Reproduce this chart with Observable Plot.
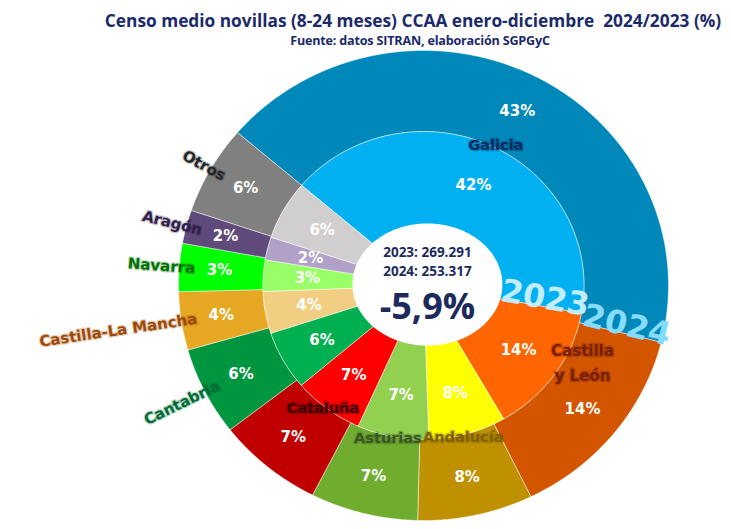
<!DOCTYPE html>
<html><head><meta charset="utf-8">
<script src="https://cdn.jsdelivr.net/npm/d3@7"></script>
<script src="https://cdn.jsdelivr.net/npm/@observablehq/plot@0.6"></script>
<style>
body{margin:0;background:#fff;width:731px;height:529px;overflow:hidden;position:relative;font-family:"Open Sans",sans-serif}
#title{position:absolute;left:0;top:9px;width:826px;text-align:center;white-space:nowrap;font-weight:700;font-size:17.3px;color:#1B2A6B;}
#sub{position:absolute;left:0;top:32px;width:840px;text-align:center;white-space:nowrap;font-weight:700;font-size:12.6px;color:#1B2A6B;letter-spacing:-0.2px}
#chart{position:absolute;left:0;top:50px;}
</style></head><body>
<div id="title">Censo medio novillas (8-24 meses) CCAA enero-diciembre&nbsp; 2024/2023 (%)</div>
<div id="sub">Fuente: datos SITRAN, elaboración SGPGyC</div>
<div id="chart"></div>
<script>
const regions = ["Galicia","Castilla y León","Andalucía","Asturias","Cataluña","Cantabria","Castilla-La Mancha","Navarra","Aragón","Otros"];
const share2024 = [42.6,13.9,7.6,7.1,7.0,6.1,4.0,3.3,2.3,6.1];
const share2023 = [41.6,13.8,7.8,7.2,7.1,6.2,4.4,3.3,2.4,6.2];
const colors2024 = ["#0088BA","#D35500","#BF9000","#70AD2F","#C00000","#00963F","#E6A823","#00FF00","#604A7B","#808080"];
const colors2023 = ["#00B0F0","#FF6600","#FFFF00","#92D050","#FF0000","#00B050","#F2CE82","#99FF66","#B1A0C7","#D0CECE"];
const labelColors = ["#0A2A5E","#7A1E00","#7F6000","#385723","#3F0000","#006B35","#9C4A06","#007000","#2E1E48","#262626"];
const years = ["2023","2024"];
const total2023 = 269291;
const total2024 = 253317;

const es = d3.formatLocale({decimal:",", thousands:".", grouping:[3], currency:["","€"], minus:"-"});
const fmtN = es.format(",d");
const fmtP = es.format(".1f");

const deg = Math.PI/180;
const start = -49.4*deg;
const pie = d3.pie().sort(null).startAngle(start).endAngle(start + 2*Math.PI);
const arcs24 = pie(share2024), arcs23 = pie(share2023);

const RX = 245, RY = 235; // pixel radii of the stretched doughnut
const R_OUT = 1, R_MID = 0.655, R_IN = 0.22;

function ring(arcs, r0, r1, colors, tag) {
  const pts = [];
  arcs.forEach((a, i) => {
    const n = Math.max(2, Math.ceil((a.endAngle - a.startAngle)/(0.5*deg)));
    const key = tag + i;
    const list = [];
    for (let k = 0; k <= n; k++) { const t = a.startAngle + (a.endAngle - a.startAngle)*k/n; list.push([r1*Math.sin(t), r1*Math.cos(t)]); }
    for (let k = n; k >= 0; k--) { const t = a.startAngle + (a.endAngle - a.startAngle)*k/n; list.push([r0*Math.sin(t), r0*Math.cos(t)]); }
    list.push(list[0]);
    list.forEach(([x, y]) => pts.push({key, color: colors[i], x, y}));
  });
  return pts;
}
const slices = ring(arcs24, R_MID, R_OUT, colors2024, "o").concat(ring(arcs23, R_IN, R_MID, colors2023, "i"));

// white oval in the centre
const oval = d3.range(0, 361, 3).map(d => ({x: 0.016 + 0.306*Math.sin(d*deg), y: 0.004 + 0.26*Math.cos(d*deg)}));

const mid = a => (a.startAngle + a.endAngle)/2;
const pctOuter = arcs24.map((a, i) => ({x: 0.835*Math.sin(mid(a)), y: 0.835*Math.cos(mid(a)), text: Math.round(share2024[i]) + "%"}));
const pctInner = arcs23.map((a, i) => ({x: 0.475*Math.sin(mid(a)), y: 0.475*Math.cos(mid(a)), text: Math.round(share2023[i]) + "%"}));

// names: left side radial, right side horizontal
const leftNames = [], rightNames = [];
regions.forEach((name, i) => {
  if (i >= 5) {
    const t = mid(arcs24[i]);
    const r = 0.935;
    const rot = Math.atan2(Math.cos(t)*RY, -Math.sin(t)*RX)/deg;
    leftNames.push({x: r*Math.sin(t), y: r*Math.cos(t), text: name, color: labelColors[i], rot});
  } else if (i !== 1) {
    const t = (mid(arcs24[i]) + mid(arcs23[i]))/2;
    const r = 0.665;
    rightNames.push({x: r*Math.sin(t), y: r*Math.cos(t), text: name, color: labelColors[i]});
  }
});
const tc = (mid(arcs24[1]) + mid(arcs23[1]))/2;
const cylName = [{x: 0.665*Math.sin(tc), y: 0.665*Math.cos(tc), text: "Castilla\ny León", color: labelColors[1]}];

// year labels sitting on the Galicia / Castilla y León boundary
const yearLabels = [
  {a: arcs23[0].endAngle, r: 0.497, text: years[0], color: "#C2ECFF"},
  {a: arcs24[0].endAngle, r: 0.845, text: years[1], color: "#86DCFF"}
].map(d => ({x: d.r*Math.sin(d.a), y: d.r*Math.cos(d.a), text: d.text, color: d.color,
  rot: Math.atan2(-Math.cos(d.a)*RY, Math.sin(d.a)*RX)/deg}));

const change = (total2024/total2023 - 1)*100;
const centre = [{x: 0.016, y: 0}];

const chart = Plot.plot({
  width: 731, height: 479,
  marginTop: 0, marginBottom: 0, marginLeft: 0, marginRight: 0,
  x: {domain: [-1, 1], range: [423 - RX, 423 + RX], axis: null},
  y: {domain: [-1, 1], range: [235 + RY, 235 - RY], axis: null},
  color: {type: "identity"},
  marks: [
    Plot.line(slices, {x: "x", y: "y", z: "key", fill: "color", stroke: "#ffffff", strokeWidth: 0.8, strokeOpacity: 0.6, curve: "linear"}),
    Plot.line(oval, {x: "x", y: "y", fill: "white", stroke: "none", curve: "linear"}),
    Plot.text(pctOuter, {x: "x", y: "y", text: "text", fill: "white", fontSize: 15, fontWeight: "bold", fontFamily: "DejaVu Sans"}),
    Plot.text(pctInner, {x: "x", y: "y", text: "text", fill: "white", fontSize: 15, fontWeight: "bold", fontFamily: "DejaVu Sans"}),
    Plot.text(yearLabels, {x: "x", y: "y", text: "text", fill: "color", rotate: "rot", lineAnchor: "bottom", dy: 2, fontSize: 32, fontWeight: "bold", fontFamily: "DejaVu Sans"}),
    Plot.text(leftNames, {x: "x", y: "y", text: "text", fill: "color", stroke: "color", strokeOpacity: 0.25, strokeWidth: 2.5, rotate: "rot", textAnchor: "end", fontSize: 15, fontWeight: "bold", fontFamily: "DejaVu Sans"}),
    Plot.text(rightNames, {x: "x", y: "y", text: "text", fill: "color", stroke: "color", strokeOpacity: 0.3, strokeWidth: 3, fontSize: 14.5, fontWeight: "bold", fontFamily: "DejaVu Sans"}),
    Plot.text(cylName, {x: "x", y: "y", text: "text", fill: "color", stroke: "color", strokeOpacity: 0.3, strokeWidth: 3, dx: 29, dy: -19, lineHeight: 1.65, fontSize: 15, fontWeight: "bold", fontFamily: "DejaVu Sans"}),
    Plot.text(centre, {x: "x", y: "y", text: () => years[0] + ": " + fmtN(total2023), dy: -33, fill: "#1C2B5C", fontSize: 13.5, fontWeight: "bold", fontFamily: "Open Sans"}),
    Plot.text(centre, {x: "x", y: "y", text: () => years[1] + ": " + fmtN(total2024), dy: -14, fill: "#1C2B5C", fontSize: 13.5, fontWeight: "bold", fontFamily: "Open Sans"}),
    Plot.text(centre, {x: "x", y: "y", text: () => fmtP(change) + "%", dy: 22, fill: "#1C2B5C", fontSize: 36, fontWeight: "bold", fontFamily: "Open Sans"})
  ]
});
document.getElementById("chart").appendChild(chart);
</script>
</body></html>
